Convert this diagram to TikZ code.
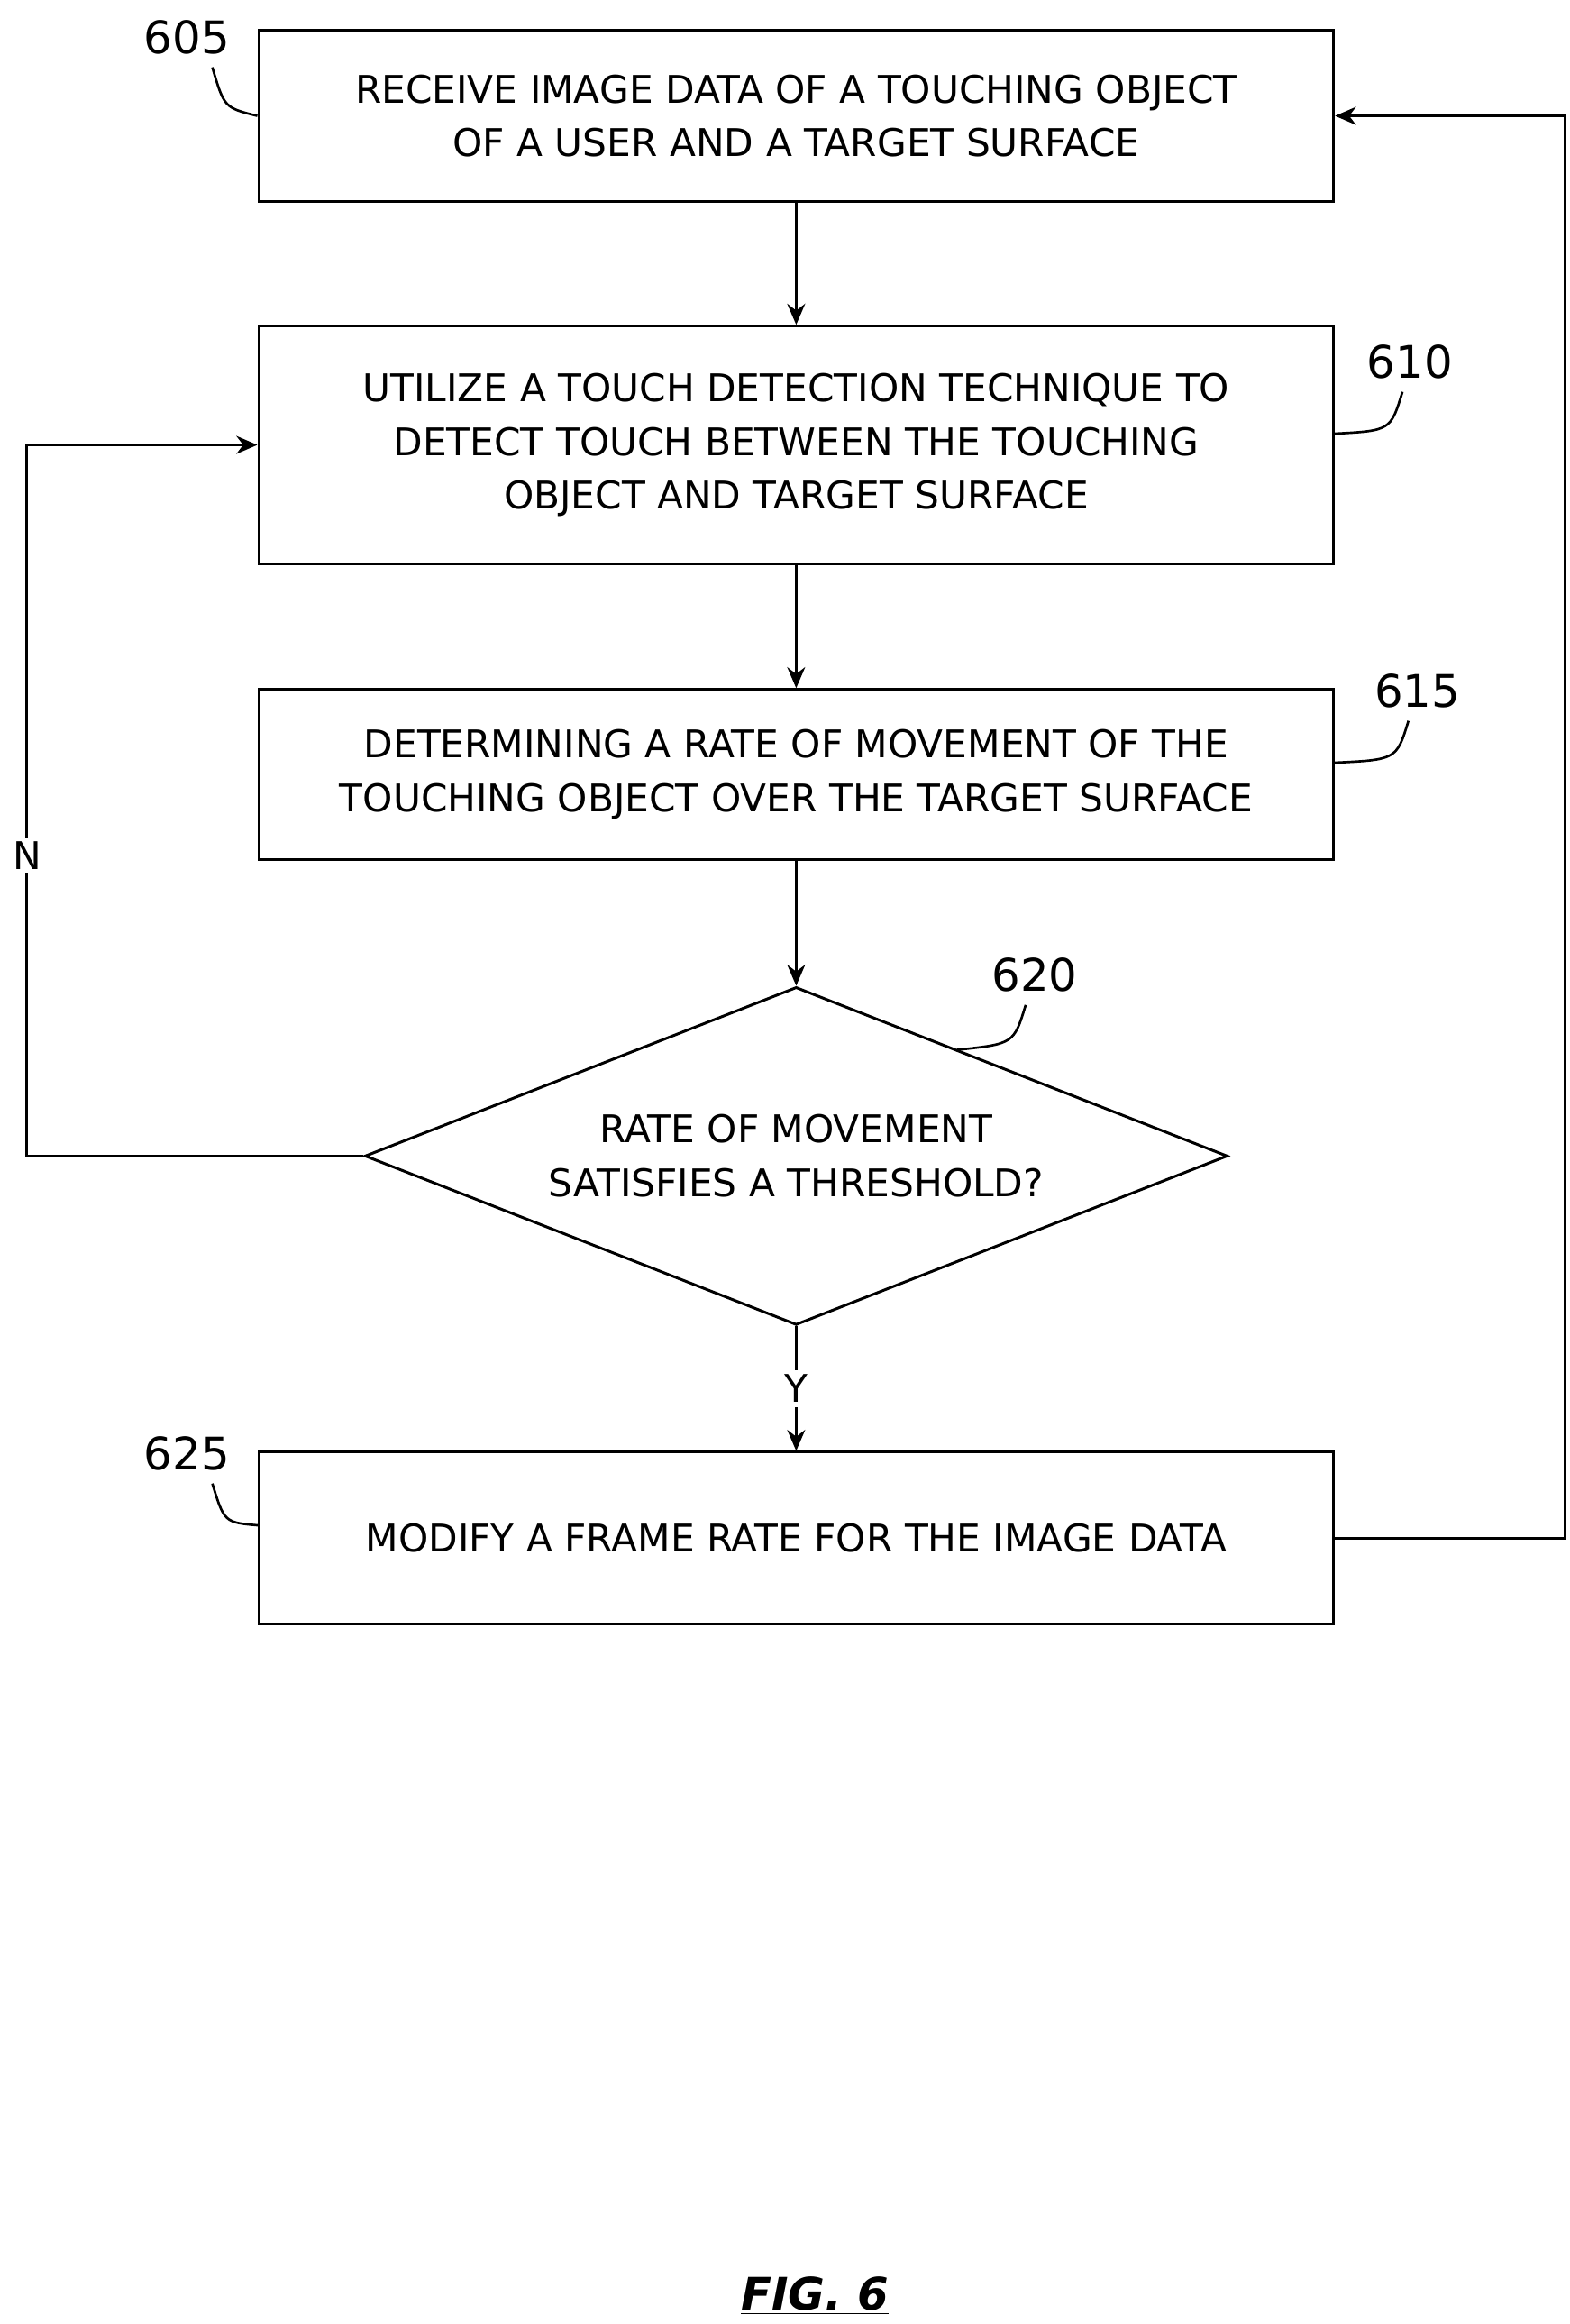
\documentclass[tikz,border=0pt]{standalone}
\usepackage{fontspec}
\setmainfont{DejaVu Sans}
\usetikzlibrary{shapes.geometric,arrows.meta}
\begin{document}
\begin{tikzpicture}[x=1pt,y=-1pt,
    every node/.style={font=\fontsize{25.5}{36}\selectfont},
    num/.style={font=\fontsize{30}{36}\selectfont},
    box/.style={draw, line width=1.8pt, minimum width=719pt, align=center, inner sep=0pt},
    dec/.style={draw, diamond, line width=1.8pt, minimum width=577pt, minimum height=226pt, aspect=2.55, inner sep=0pt, align=center},
    flow/.style={line width=1.8pt, -{Stealth[length=14pt,width=12pt]}},
    lead/.style={line width=1.6pt}]
\useasboundingbox (0,0) rectangle (1050,1554);

% Steps
\node[box, minimum height=115pt] (s605) at (532.5,77.5) {RECEIVE IMAGE DATA OF A TOUCHING OBJECT\\OF A USER AND A TARGET SURFACE};
\node[box, minimum height=159pt] (s610) at (532.5,297.5) {UTILIZE A TOUCH DETECTION TECHNIQUE TO\\DETECT TOUCH BETWEEN THE TOUCHING\\OBJECT AND TARGET SURFACE};
\node[box, minimum height=114pt] (s615) at (532.5,518) {DETERMINING A RATE OF MOVEMENT OF THE\\TOUCHING OBJECT OVER THE TARGET SURFACE};
\node[dec] (s620) at (532.5,773) {RATE OF MOVEMENT\\SATISFIES A THRESHOLD?};
\node[box, minimum height=115pt] (s625) at (532.5,1028.5) {MODIFY A FRAME RATE FOR THE IMAGE DATA};

% Arrows
\draw[flow] (s605) -- (s610);
\draw[flow] (s610) -- (s615);
\draw[flow] (s615) -- (s620);
\draw[flow] (s620) -- node[fill=white, inner sep=3pt] (lblY) {Y} (s625);
\coordinate (nl) at (18,773);
\coordinate (nu) at (18,297.5);
\draw[flow] (s620.west) -- (nl) -- (nu) -- (s610.west);
\node[fill=white, inner sep=2pt] (lblN) at (18,572) {N};
\coordinate (rl) at (1047,1028.5);
\coordinate (ru) at (1047,77.5);
\draw[flow] (s625.east) -- (rl) -- (ru) -- (s605.east);

% Reference numerals
\node[num] (n605) at (125,25) {605};
\draw[lead] (142,45) .. controls (150,72) .. (s605.west);
\node[num] (n610) at (943,242) {610};
\draw[lead] (938,262) .. controls (930,288) .. (892,290);
\node[num] (n615) at (948,462) {615};
\draw[lead] (942,482) .. controls (934,508) .. (892,510);
\node[num] (n620) at (692,652) {620};
\draw[lead] (686,672) .. controls (678,698) .. (640,702);
\node[num] (n625) at (125,972) {625};
\draw[lead] (142,992) .. controls (150,1018) .. (173,1020);

% Figure title
\node[font=\fontsize{30}{36}\selectfont\bfseries\itshape] (fig) at (545,1535) {\underline{FIG. 6}};
\end{tikzpicture}
\end{document}
